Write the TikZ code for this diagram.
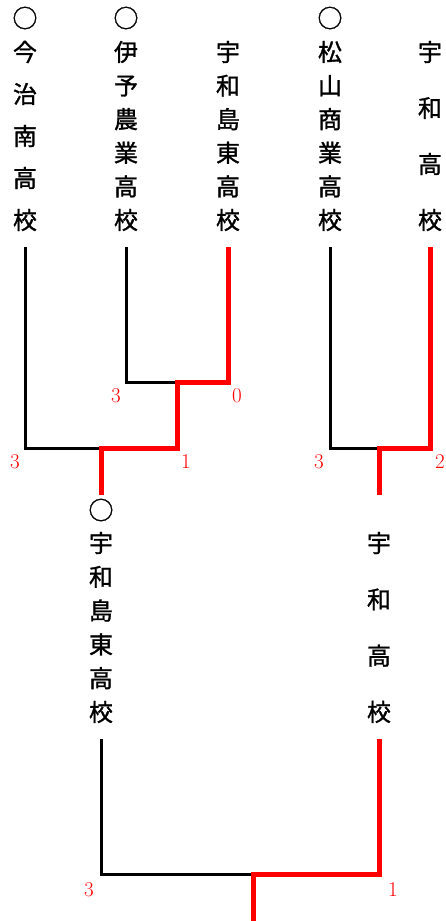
\documentclass[tikz,border=0pt]{standalone}
\usepackage{fontspec}
\usepackage{xcolor}
\usepackage{tikz}
\usetikzlibrary{positioning}
\newfontfamily\jpfont[FakeBold=1.2]{Noto Sans CJK JP}

\begin{document}
\begin{tikzpicture}[x=1pt,y=-1pt,
    team/.style={font=\jpfont\fontsize{24}{#1}\selectfont, align=center,
                 inner xsep=0pt, inner ysep=16pt},
    winmark/.style={font=\jpfont\fontsize{25}{25}\selectfont, inner sep=0pt},
    score/.style={text=red, font=\fontsize{21}{21}\selectfont, inner sep=0pt},
    lose/.style={draw=black, line width=3pt},
    win/.style={draw=red, line width=5pt}]
            \useasboundingbox (0,0) rectangle (445,921);
            \node[winmark] (o1) at (25,18) {○};
            \node[winmark] (o2) at (126,18) {○};
            \node[winmark] (o4) at (330,18) {○};
            \node[team=42] (imabari) at (25,136) {今\\治\\南\\高\\校};
            \node[team=33.6] (iyo) at (126,136) {伊\\予\\農\\業\\高\\校};
            \node[team=33.6] (uwajimahigashi) at (228,136) {宇\\和\\島\\東\\高\\校};
            \node[team=33.6] (matsuyama) at (330,136) {松\\山\\商\\業\\高\\校};
            \node[team=56] (uwa) at (430,136) {宇\\和\\高\\校};
            \node[winmark] (o5) at (101,510) {○};
            \node[team=33.8] (uwajimahigashi2) at (101,627.5) {宇\\和\\島\\東\\高\\校};
            \node[team=56.3] (uwa2) at (379,627.5) {宇\\和\\高\\校};
            \coordinate (m1) at (177,382);
            \coordinate (m2) at (101,448);
            \coordinate (m3) at (379,448);
            \coordinate (m4) at (253,874);
            \coordinate (d2) at (101,495);
            \coordinate (d3) at (379,495);
            \coordinate (d4) at (253,921);
            \path[lose] (iyo.south) |- (m1);
            \path[lose] (imabari.south) |- (m2);
            \path[lose] (matsuyama.south) |- (m3);
            \path[lose] (uwajimahigashi2.south) |- (m4);
            \path[win] (uwajimahigashi.south) |- (m1) |- (m2) -- (d2);
            \path[win] (uwa.south) |- (m3) -- (d3);
            \path[win] (uwa2.south) |- (m4) -- (d4);
            \node[score] (s1) at (116,396) {3};
            \node[score] (s2) at (237,396) {0};
            \node[score] (s3) at (15,462) {3};
            \node[score] (s4) at (186,462) {1};
            \node[score] (s5) at (319,462) {3};
            \node[score] (s6) at (440,462) {2};
            \node[score] (s7) at (89,890) {3};
            \node[score] (s8) at (393,890) {1};
          \end{tikzpicture}
\end{document}
